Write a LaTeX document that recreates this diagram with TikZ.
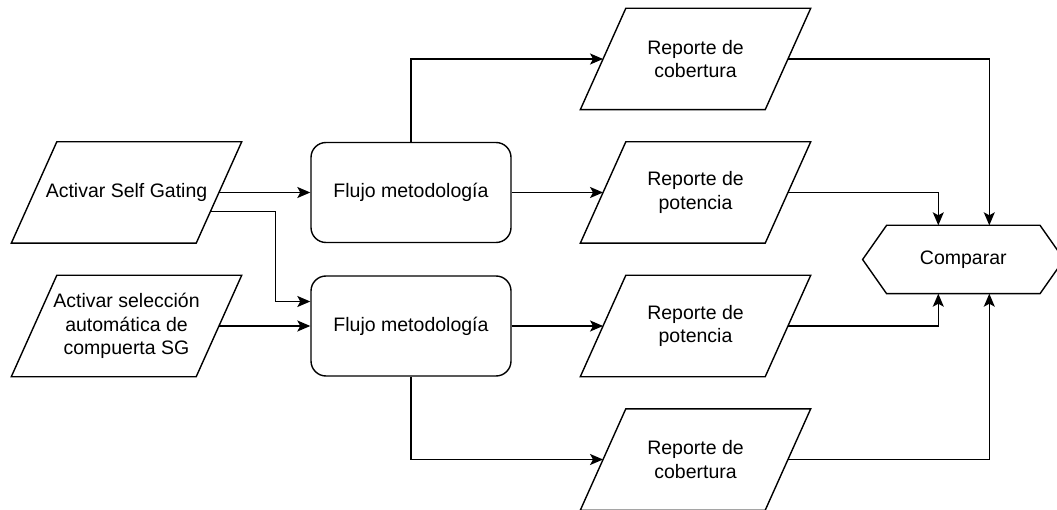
\documentclass[tikz,border=0pt]{standalone}
\usepackage{fontspec}
\setmainfont{Liberation Sans}
\usetikzlibrary{calc,arrows.meta}

% Data (input/output) shape: a parallelogram drawn around an invisible box,
% with named entry/exit points at the middle of its slanted sides.
\newcommand\ioshape[3]{%
  \node[iobox] (#1) at (#2) {#3};
  \coordinate (#1-nw) at ($(#1.north west)+(45.5,0)$);
  \coordinate (#1-se) at ($(#1.south east)+(-45.5,0)$);
  \draw (#1.south west) -- (#1-nw) -- (#1.north east) -- (#1-se) -- cycle;
  \coordinate (#1-in) at ($(#1.west)+(22.75,0)$);
  \coordinate (#1-out) at ($(#1.east)+(-22.75,0)$);
}

\begin{document}
\begin{tikzpicture}[x=1pt,y=-1pt,line width=1.4pt,
  every node/.style={font=\fontsize{19.5}{23.4}\selectfont,align=center,inner sep=0pt},
  iobox/.style={minimum width=229pt,minimum height=100pt},
  procbox/.style={draw,rounded corners=15pt,minimum width=200pt,minimum height=100pt},
  hexbox/.style={minimum width=200pt,minimum height=67pt},
  flow/.style={-{Stealth[length=13pt,width=11pt,inset=3pt]}},
  ]
\useasboundingbox (0,0) rectangle (1057,510);

% inputs
\ioshape{in1}{126.5,192.5}{Activar Self Gating}
\ioshape{in2}{126.5,326}{Activar selección\\automática de\\compuerta SG}

% methodology flows
\node[procbox] (f1) at (411,192.5) {Flujo metodología};
\node[procbox] (f2) at (411,326) {Flujo metodología};

% reports
\ioshape{r1}{695.5,59}{Reporte de\\cobertura}
\ioshape{r2}{695.5,192.5}{Reporte de\\potencia}
\ioshape{r3}{695.5,326}{Reporte de\\potencia}
\ioshape{r4}{695.5,459.5}{Reporte de\\cobertura}

% comparison (hexagon)
\node[hexbox] (cmp) at (963.3,259.5) {Comparar};
\draw ($(cmp.north west)+(24,0)$) -- ($(cmp.north east)+(-24,0)$) -- (cmp.east)
   -- ($(cmp.south east)+(-24,0)$) -- ($(cmp.south west)+(24,0)$) -- (cmp.west) -- cycle;

% helper points
\coordinate (s1) at ($(in1.north east)!0.686!(in1-se)$);
\coordinate (j1) at (275.3,0);
\coordinate (f2w) at ($(f2.west)+(0,-24.5)$);
\coordinate (cl) at ($(cmp.center)+(-25,0)$);
\coordinate (cr) at ($(cmp.center)+(26,0)$);

% connectors
\draw[flow] (in1-out) -- (f1.west);
\draw[flow] (s1) -- (s1 -| j1) |- (f2w);
\draw[flow] (in2-out) -- (f2.west);
\draw[flow] (f1.north) |- (r1-in);
\draw[flow] (f1.east) -- (r2-in);
\draw[flow] (f2.east) -- (r3-in);
\draw[flow] (f2.south) |- (r4-in);
\draw[flow] (r1-out) -| (cr |- cmp.north);
\draw[flow] (r2-out) -| (cl |- cmp.north);
\draw[flow] (r3-out) -| (cl |- cmp.south);
\draw[flow] (r4-out) -| (cr |- cmp.south);
\end{tikzpicture}
\end{document}
